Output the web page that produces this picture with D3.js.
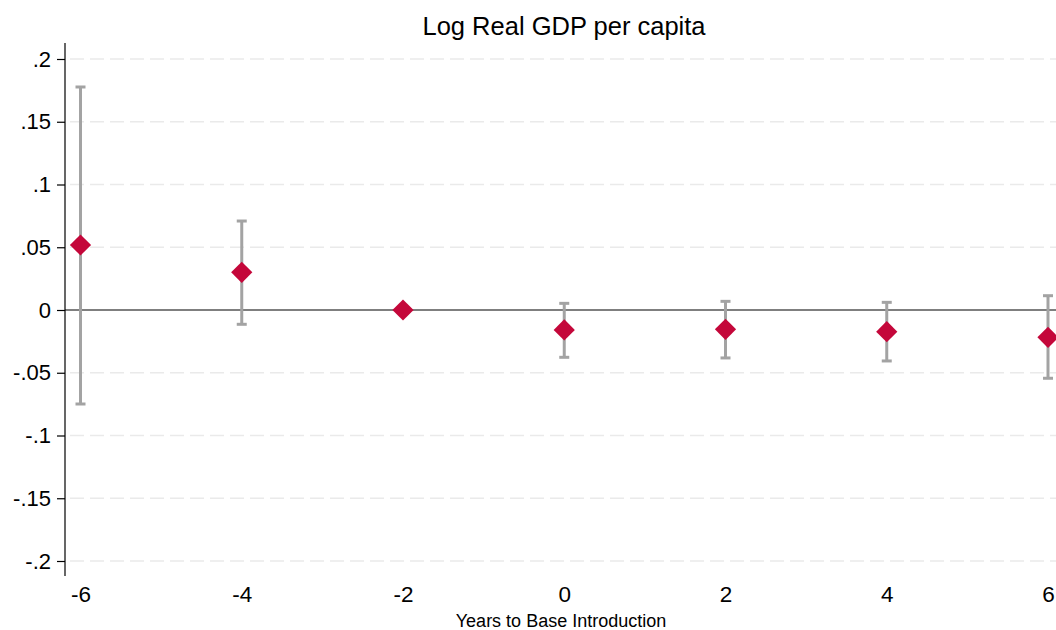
<!DOCTYPE html>
<html>
<head>
<meta charset="utf-8">
<script src="https://cdn.jsdelivr.net/npm/d3@7"></script>
<style>
  html, body { margin: 0; padding: 0; background: #fff; }
  svg { display: block; font-family: "Liberation Sans", Arial, sans-serif; }
</style>
</head>
<body>
<svg id="chart" width="1056" height="630"></svg>
<script>
// Event-study estimates: log real GDP per capita relative to base introduction
const years = [-6, -4, -2, 0, 2, 4, 6];
const coef  = [0.0518, 0.0300, 0.0000, -0.0159, -0.0154, -0.0173, -0.0218];
const ciLow = [-0.0749, -0.0114, null, -0.0377, -0.0382, -0.0406, -0.0544];
const ciHigh = [0.1777, 0.0709, null, 0.0053, 0.0069, 0.0061, 0.0114];
const yTicks = [0.2, 0.15, 0.1, 0.05, 0, -0.05, -0.1, -0.15, -0.2];
const xTicks = [-6, -4, -2, 0, 2, 4, 6];

const svg = d3.select("#chart");

const x = d3.scaleLinear().domain([-6, 6]).range([80.5, 1048]);
const y = d3.scaleLinear().domain([-0.2, 0.2]).range([561, 59]);

const fmt = v => {
  if (v === 0) return "0";
  let s = String(+v.toFixed(2));
  return s.replace(/^(-?)0\./, "$1.");
};

// dashed horizontal gridlines
svg.append("g")
  .selectAll("line")
  .data(yTicks.filter(d => d !== 0))
  .join("line")
  .attr("x1", 70).attr("x2", 1056)
  .attr("y1", d => y(d)).attr("y2", d => y(d))
  .attr("stroke", "#eaeaea")
  .attr("stroke-width", 1.5)
  .attr("stroke-dasharray", "14,6");

// zero reference line
svg.append("line")
  .attr("x1", 65).attr("x2", 1056)
  .attr("y1", y(0)).attr("y2", y(0))
  .attr("stroke", "#555")
  .attr("stroke-width", 1.5);

// y axis
const yAxis = d3.axisLeft(y)
  .tickValues(yTicks)
  .tickFormat(fmt)
  .tickSize(8)
  .tickPadding(6);
const gy = svg.append("g")
  .attr("transform", "translate(65,0)")
  .call(yAxis);
gy.select(".domain").remove();
gy.append("line")
  .attr("x1", 0).attr("x2", 0)
  .attr("y1", 43).attr("y2", 576)
  .attr("stroke", "#000").attr("stroke-width", 1.2);
gy.selectAll(".tick line").attr("stroke", "#000").attr("stroke-width", 1.2);
gy.selectAll(".tick text")
  .attr("fill", "#000")
  .style("font-size", "22px")
  .style("font-family", "'Liberation Sans', Arial, sans-serif");

// x axis labels (no axis line)
const xAxis = d3.axisBottom(x)
  .tickValues(xTicks)
  .tickFormat(d3.format("d"))
  .tickSize(0)
  .tickPadding(0);
const gx = svg.append("g")
  .attr("transform", "translate(0,585)")
  .call(xAxis);
gx.select(".domain").remove();
gx.selectAll(".tick text")
  .attr("fill", "#000")
  .attr("dy", "0.76em")
  .style("font-size", "22.5px")
  .style("font-family", "'Liberation Sans', Arial, sans-serif")
  .text(d => d < 0 ? "-" + Math.abs(d) : d);

// confidence intervals
const ci = years.map((yr, i) => ({ yr, lo: ciLow[i], hi: ciHigh[i] })).filter(d => d.lo !== null);
const gci = svg.append("g").attr("stroke", "#a3a3a3").attr("stroke-width", 3);
gci.selectAll("line.bar").data(ci).join("line")
  .attr("class", "bar")
  .attr("x1", d => x(d.yr)).attr("x2", d => x(d.yr))
  .attr("y1", d => y(d.lo)).attr("y2", d => y(d.hi));
gci.selectAll("line.capHi").data(ci).join("line")
  .attr("class", "capHi")
  .attr("x1", d => x(d.yr) - 5).attr("x2", d => x(d.yr) + 5)
  .attr("y1", d => y(d.hi)).attr("y2", d => y(d.hi));
gci.selectAll("line.capLo").data(ci).join("line")
  .attr("class", "capLo")
  .attr("x1", d => x(d.yr) - 5).attr("x2", d => x(d.yr) + 5)
  .attr("y1", d => y(d.lo)).attr("y2", d => y(d.lo));

// point estimates as diamonds
const diamond = d3.symbol().type(d3.symbolSquare).size(225);
svg.append("g").selectAll("path")
  .data(years.map((yr, i) => ({ yr, v: coef[i] })))
  .join("path")
  .attr("d", diamond)
  .attr("transform", d => `translate(${x(d.yr)},${y(d.v)}) rotate(45)`)
  .attr("fill", "#c4073a");

// title
svg.append("text")
  .attr("x", 564).attr("y", 35)
  .attr("text-anchor", "middle")
  .style("font-size", "25.5px")
  .attr("fill", "#000")
  .text("Log Real GDP per capita");

// x axis title
svg.append("text")
  .attr("x", 561).attr("y", 627)
  .attr("text-anchor", "middle")
  .style("font-size", "18px")
  .attr("fill", "#000")
  .text("Years to Base Introduction");
</script>
</body>
</html>
